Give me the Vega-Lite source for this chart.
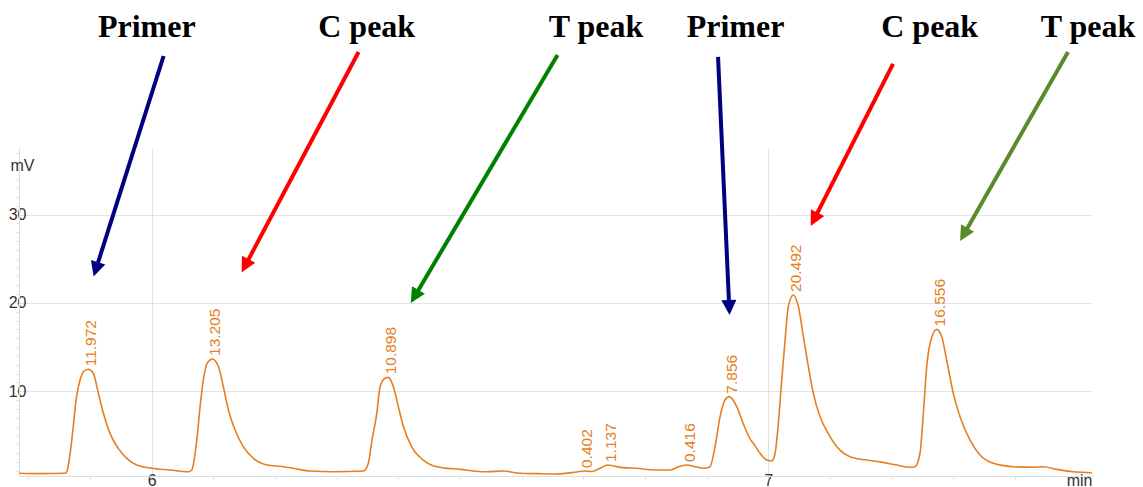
{
  "$schema": "https://vega.github.io/schema/vega-lite/v6.json",
  "width": 1073,
  "height": 328,
  "autosize": {"type": "none"},
  "padding": {"left": 19, "top": 148, "right": 51, "bottom": 11},
  "background": "white",
  "view": {"stroke": null},
  "config": {"font": "Liberation Sans"},
  "datasets": {
    "trace": [
      {"t": 5.785, "mV": 0.70}, {"t": 5.8192, "mV": 0.66}, {"t": 5.8597, "mV": 0.70}, {"t": 5.8625, "mV": 0.88},
      {"t": 5.8706, "mV": 4.47}, {"t": 5.8776, "mV": 9.0}, {"t": 5.8841, "mV": 11.3}, {"t": 5.8894, "mV": 12.2},
      {"t": 5.8975, "mV": 12.48}, {"t": 5.9056, "mV": 12.0}, {"t": 5.9137, "mV": 9.76}, {"t": 5.9218, "mV": 7.5},
      {"t": 5.9327, "mV": 5.2}, {"t": 5.9462, "mV": 3.5}, {"t": 5.9598, "mV": 2.4}, {"t": 5.976, "mV": 1.64},
      {"t": 6.0003, "mV": 1.27}, {"t": 6.03, "mV": 1.08}, {"t": 6.0597, "mV": 0.88}, {"t": 6.0652, "mV": 1.08},
      {"t": 6.0733, "mV": 4.47}, {"t": 6.0786, "mV": 8.2}, {"t": 6.084, "mV": 11.3}, {"t": 6.0905, "mV": 13.2},
      {"t": 6.0986, "mV": 13.65}, {"t": 6.1083, "mV": 12.8}, {"t": 6.1164, "mV": 10.5}, {"t": 6.1245, "mV": 7.9},
      {"t": 6.1354, "mV": 5.6}, {"t": 6.1489, "mV": 3.7}, {"t": 6.1651, "mV": 2.4}, {"t": 6.1868, "mV": 1.64},
      {"t": 6.2137, "mV": 1.45}, {"t": 6.2299, "mV": 1.27}, {"t": 6.257, "mV": 0.96}, {"t": 6.2948, "mV": 0.88},
      {"t": 6.3434, "mV": 0.96}, {"t": 6.3515, "mV": 1.83}, {"t": 6.3575, "mV": 4.5}, {"t": 6.3652, "mV": 7.5},
      {"t": 6.3705, "mV": 10.5}, {"t": 6.3786, "mV": 11.46}, {"t": 6.384, "mV": 11.57}, {"t": 6.3921, "mV": 10.5},
      {"t": 6.4002, "mV": 8.25}, {"t": 6.4083, "mV": 6.0}, {"t": 6.4219, "mV": 3.7}, {"t": 6.4407, "mV": 2.2},
      {"t": 6.4625, "mV": 1.45}, {"t": 6.5002, "mV": 1.15}, {"t": 6.5435, "mV": 0.88}, {"t": 6.5705, "mV": 0.96},
      {"t": 6.5975, "mV": 0.70}, {"t": 6.6246, "mV": 0.66}, {"t": 6.657, "mV": 0.62}, {"t": 6.6895, "mV": 0.85},
      {"t": 6.7013, "mV": 0.96}, {"t": 6.7138, "mV": 0.9}, {"t": 6.7273, "mV": 1.27}, {"t": 6.7394, "mV": 1.64},
      {"t": 6.7488, "mV": 1.53}, {"t": 6.765, "mV": 1.34}, {"t": 6.7868, "mV": 1.27}, {"t": 6.8137, "mV": 1.08},
      {"t": 6.8408, "mV": 1.08}, {"t": 6.8542, "mV": 1.45}, {"t": 6.8678, "mV": 1.64}, {"t": 6.8813, "mV": 1.45},
      {"t": 6.8948, "mV": 1.27}, {"t": 6.9056, "mV": 1.45}, {"t": 6.9137, "mV": 3.7}, {"t": 6.9218, "mV": 7.1},
      {"t": 6.9299, "mV": 9.0}, {"t": 6.9369, "mV": 9.38}, {"t": 6.9489, "mV": 8.25}, {"t": 6.9591, "mV": 6.4},
      {"t": 6.9705, "mV": 4.6}, {"t": 6.9758, "mV": 4.1}, {"t": 6.9867, "mV": 2.97}, {"t": 6.9976, "mV": 2.2},
      {"t": 7.0057, "mV": 2.1}, {"t": 7.0111, "mV": 2.97}, {"t": 7.0164, "mV": 6.4}, {"t": 7.0219, "mV": 11.3},
      {"t": 7.0273, "mV": 15.8}, {"t": 7.0326, "mV": 19.6}, {"t": 7.0407, "mV": 20.9}, {"t": 7.0488, "mV": 19.6},
      {"t": 7.0569, "mV": 16.2}, {"t": 7.065, "mV": 12.8}, {"t": 7.0731, "mV": 9.76}, {"t": 7.084, "mV": 7.1},
      {"t": 7.0974, "mV": 5.2}, {"t": 7.1137, "mV": 3.5}, {"t": 7.1326, "mV": 2.58}, {"t": 7.1597, "mV": 2.2},
      {"t": 7.1813, "mV": 2.0}, {"t": 7.2084, "mV": 1.64}, {"t": 7.2299, "mV": 1.38}, {"t": 7.238, "mV": 1.45},
      {"t": 7.2461, "mV": 2.97}, {"t": 7.2515, "mV": 7.5}, {"t": 7.257, "mV": 12.8}, {"t": 7.2624, "mV": 15.4},
      {"t": 7.2732, "mV": 17.0}, {"t": 7.2813, "mV": 16.2}, {"t": 7.2894, "mV": 13.5}, {"t": 7.3001, "mV": 9.76},
      {"t": 7.311, "mV": 7.1}, {"t": 7.3272, "mV": 4.47}, {"t": 7.3434, "mV": 2.77}, {"t": 7.365, "mV": 1.83},
      {"t": 7.3974, "mV": 1.45}, {"t": 7.4299, "mV": 1.38}, {"t": 7.446, "mV": 1.45}, {"t": 7.4678, "mV": 1.15},
      {"t": 7.4947, "mV": 0.88}, {"t": 7.525, "mV": 0.77}
    ],
    "peaks": [
      {"t": 5.8975, "mV": 12.48, "label": "11.972"},
      {"t": 6.0986, "mV": 13.65, "label": "13.205"},
      {"t": 6.384, "mV": 11.57, "label": "10.898"},
      {"t": 6.7013, "mV": 0.96, "label": "0.402"},
      {"t": 6.7394, "mV": 1.64, "label": "1.137"},
      {"t": 6.8678, "mV": 1.64, "label": "0.416"},
      {"t": 6.9369, "mV": 9.38, "label": "7.856"},
      {"t": 7.0407, "mV": 20.9, "label": "20.492"},
      {"t": 7.2732, "mV": 17.0, "label": "16.556"}
    ],
    "arrows": [
      {"id": "a1", "name": "Primer", "t": 6.0195, "mV": 47.96, "t2": 5.9089, "mV2": 23.64},
      {"id": "a2", "name": "C peak", "t": 6.3357, "mV": 48.41, "t2": 6.1505, "mV2": 24.04},
      {"id": "a3", "name": "T peak", "t": 6.6583, "mV": 48.08, "t2": 6.4253, "mV2": 20.58},
      {"id": "a4", "name": "Primer", "t": 6.9186, "mV": 47.85, "t2": 6.9368, "mV2": 19.31},
      {"id": "a5", "name": "C peak", "t": 7.2024, "mV": 47.06, "t2": 7.0733, "mV2": 29.31},
      {"id": "a6", "name": "T peak", "t": 7.4861, "mV": 48.41, "t2": 7.3159, "mV2": 27.60}
    ],
    "titles": [
      {"text": "Primer", "t": 5.9922, "mV": 50.11},
      {"text": "C peak", "t": 6.3488, "mV": 50.11},
      {"text": "T peak", "t": 6.7208, "mV": 50.11},
      {"text": "Primer", "t": 6.947, "mV": 50.11},
      {"text": "C peak", "t": 7.2618, "mV": 50.11},
      {"text": "T peak", "t": 7.5186, "mV": 50.11}
    ]
  },
  "encoding": {
    "x": {
      "field": "t", "type": "quantitative",
      "scale": {"domain": [5.785, 7.525], "nice": false, "zero": false},
      "axis": {
        "title": "min", "titleX": 1073, "titleY": 9, "titleAlign": "right", "titleBaseline": "alphabetic",
        "titleFontSize": 16, "titleFontWeight": "normal", "titleColor": "#333333", "titleFont": "Liberation Sans",
        "values": [5.8, 5.9, 6, 6.1, 6.2, 6.3, 6.4, 6.5, 6.6, 6.7, 6.8, 6.9, 7, 7.1, 7.2, 7.3, 7.4, 7.5],
        "labelExpr": "datum.value === 6 || datum.value === 7 ? format(datum.value, 'd') : ''",
        "labelFontSize": 16, "labelColor": "#333333", "labelPadding": -7, "labelFlush": false, "labelOverlap": false,
        "tickSize": 3, "tickColor": "#dddddd", "domainColor": "#dddddd",
        "grid": true,
        "gridColor": {"condition": {"test": "datum.value === 6 || datum.value === 7", "value": "#e3e3e3"}, "value": "transparent"}
      }
    },
    "y": {
      "field": "mV", "type": "quantitative",
      "scale": {"domain": [0.396, 37.54], "nice": false, "zero": false},
      "axis": {
        "title": "mV", "titleAngle": 0, "titleX": -9, "titleY": 22, "titleAlign": "left", "titleBaseline": "alphabetic",
        "titleFontSize": 16, "titleFontWeight": "normal", "titleColor": "#333333", "titleFont": "Liberation Sans",
        "values": [1,2,3,4,5,6,7,8,9,10,11,12,13,14,15,16,17,18,19,20,21,22,23,24,25,26,27,28,29,30,31,32,33,34,35,36,37],
        "labelExpr": "datum.value % 10 === 0 ? datum.label : ''",
        "labelFontSize": 16, "labelColor": "#333333", "labelAlign": "right", "labelBaseline": "middle", "labelPadding": -10, "labelOverlap": false, "labelFlush": false,
        "tickSize": 3, "tickColor": "#dddddd", "domainColor": "#dddddd",
        "grid": true,
        "gridColor": {"condition": {"test": "datum.value % 10 === 0", "value": "#e3e3e3"}, "value": "transparent"}
      }
    }
  },
  "layer": [
    {
      "data": {"name": "trace"},
      "mark": {"type": "line", "interpolate": "monotone", "color": "#e67e22", "strokeWidth": 1.6}
    },
    {
      "data": {"name": "peaks"},
      "mark": {"type": "text", "angle": 270, "align": "left", "baseline": "middle", "dx": 3, "dy": 3, "fontSize": 15.5, "color": "#e67e22", "font": "Liberation Sans"},
      "encoding": {"text": {"field": "label", "type": "nominal"}}
    },
    {
      "data": {"name": "arrows"},
      "mark": {"type": "rule", "strokeWidth": 4},
      "encoding": {
        "x2": {"field": "t2"},
        "y2": {"field": "mV2"},
        "color": {"field": "id", "type": "nominal", "legend": null,
          "scale": {"domain": ["a1", "a2", "a3", "a4", "a5", "a6"], "range": ["#000080", "#ff0000", "#008000", "#000080", "#ff0000", "#5a8a2c"]}}
      }
    },
    {
      "data": {"name": "arrows"},
      "mark": {"type": "point", "filled": true, "opacity": 1, "size": 400, "shape": "M0,0.6 L-0.75,-0.9 L0.75,-0.9 Z"},
      "encoding": {
        "x": {"field": "t2", "type": "quantitative"},
        "y": {"field": "mV2", "type": "quantitative"},
        "color": {"field": "id", "type": "nominal", "legend": null},
        "angle": {"field": "id", "type": "nominal", "legend": null,
          "scale": {"type": "ordinal", "domain": ["a1", "a2", "a3", "a4", "a5", "a6"], "range": [17.6, 27.95, 30.6, -2.55, 26.9, 29.7]}}
      }
    },
    {
      "data": {"name": "titles"},
      "mark": {"type": "text", "font": "Liberation Serif", "fontWeight": "bold", "fontSize": 32, "align": "center", "baseline": "alphabetic", "color": "#000000"},
      "encoding": {"text": {"field": "text", "type": "nominal"}}
    }
  ]
}
